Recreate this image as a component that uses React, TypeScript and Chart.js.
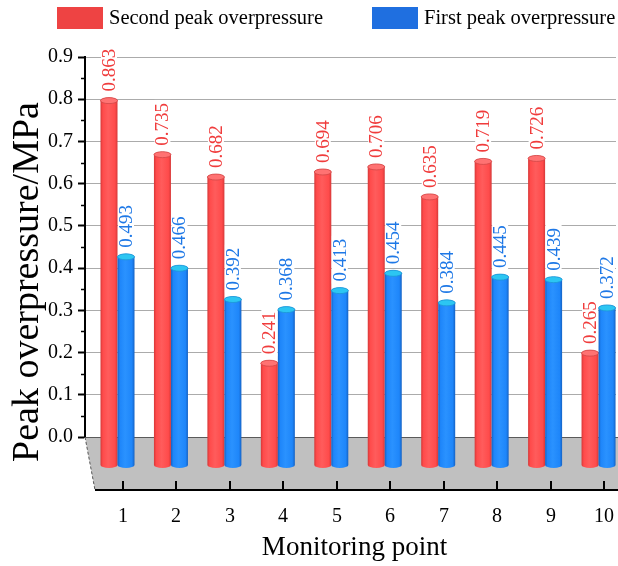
import React, { useEffect, useRef } from 'react';
import { Chart, registerables } from 'chart.js';

Chart.register(...registerables);

// ---------- data ----------
const categories = [1, 2, 3, 4, 5, 6, 7, 8, 9, 10];
const secondPeak = [0.863, 0.735, 0.682, 0.241, 0.694, 0.706, 0.635, 0.719, 0.726, 0.265];
const firstPeak = [0.493, 0.466, 0.392, 0.368, 0.413, 0.454, 0.384, 0.445, 0.439, 0.372];
const seriesNames = ['Second peak overpressure', 'First peak overpressure'];
const yTickMin = 0;
const yTickMax = 0.9;
const yTickStep = 0.1;
const xTitle = 'Monitoring point';
const yTitle = 'Peak overpressure/MPa';

// ---------- style ----------
const FONT = '"Liberation Serif", "Times New Roman", serif';
const W = 618;
const H = 566;
const FRONT_DROP = 28; // px between back wall zero and bar bases
const FLOOR_DEPTH = 53; // px from back edge to front edge of floor
const FLOOR_SHIFT = 10; // horizontal shift of front edge
const BAR_SHIFT = 5.5; // bars sit half-way in depth; front ticks shift this much more

const palette = [
  { legend: '#EE4343', label: '#F03C3C', dark: '#D63838', main: '#FF4B4B', light: '#FF5C5C', top: '#FF7272', topEdge: '#D24646' },
  { legend: '#1F6FE0', label: '#1E78E6', dark: '#1562C4', main: '#1E86FA', light: '#2A92FF', top: '#2CC6F2', topEdge: '#1C96D6' },
];

function drawCylinder(ctx: CanvasRenderingContext2D, cx: number, top: number, base: number, w: number, c: any) {
  const left = cx - w / 2;
  const rx = w / 2;
  const ry = 3;
  const g = ctx.createLinearGradient(left, 0, left + w, 0);
  g.addColorStop(0, c.dark);
  g.addColorStop(0.14, c.main);
  g.addColorStop(0.45, c.light);
  g.addColorStop(0.85, c.main);
  g.addColorStop(1, c.dark);
  ctx.fillStyle = g;
  ctx.beginPath();
  ctx.moveTo(left, top);
  ctx.lineTo(left, base);
  ctx.ellipse(cx, base, rx, ry, 0, Math.PI, 0, true);
  ctx.lineTo(left + w, top);
  ctx.ellipse(cx, top, rx, ry, 0, 0, Math.PI, true);
  ctx.closePath();
  ctx.fill();
  ctx.beginPath();
  ctx.ellipse(cx, top, rx, ry, 0, 0, Math.PI * 2);
  ctx.fillStyle = c.top;
  ctx.fill();
  ctx.lineWidth = 0.8;
  ctx.strokeStyle = c.topEdge;
  ctx.stroke();
}

const depthPlugin = {
  id: 'depth3d',
  beforeDatasetsDraw(chart: any) {
    const { ctx, chartArea: ca, scales } = chart;
    const x = scales.x;
    const back = ca.bottom;
    const front = back + FLOOR_DEPTH;
    ctx.save();
    // floor
    ctx.beginPath();
    ctx.moveTo(ca.left, back);
    ctx.lineTo(chart.width, back);
    ctx.lineTo(chart.width, front);
    ctx.lineTo(ca.left + FLOOR_SHIFT, front);
    ctx.closePath();
    ctx.fillStyle = '#C0C0C0';
    ctx.fill();
    // back edge
    ctx.beginPath();
    ctx.moveTo(ca.left, back + 0.5);
    ctx.lineTo(chart.width, back + 0.5);
    ctx.strokeStyle = '#5A5A5A';
    ctx.lineWidth = 1.2;
    ctx.stroke();
    // left slanted edge
    ctx.beginPath();
    ctx.setLineDash([3, 2]);
    ctx.moveTo(ca.left, back);
    ctx.lineTo(ca.left + FLOOR_SHIFT, front);
    ctx.strokeStyle = '#555';
    ctx.lineWidth = 1;
    ctx.stroke();
    ctx.setLineDash([]);
    // front axis
    ctx.beginPath();
    ctx.moveTo(ca.left + FLOOR_SHIFT, front);
    ctx.lineTo(chart.width, front);
    ctx.strokeStyle = '#000';
    ctx.lineWidth = 2;
    ctx.stroke();
    // front ticks + labels
    ctx.font = `20px ${FONT}`;
    ctx.fillStyle = '#000';
    ctx.textAlign = 'center';
    ctx.textBaseline = 'middle';
    categories.forEach((c) => {
      const px = Math.round(x.getPixelForValue(c) + BAR_SHIFT);
      ctx.beginPath();
      ctx.moveTo(px, front);
      ctx.lineTo(px, front - 9);
      ctx.lineWidth = 2;
      ctx.stroke();
      ctx.fillText(String(c), px, front + 27);
    });
    ctx.restore();
  },
  afterDatasetsDraw(chart: any) {
    const { ctx } = chart;
    ctx.save();
    chart.data.datasets.forEach((ds: any, di: number) => {
      const meta = chart.getDatasetMeta(di);
      meta.data.forEach((el: any) => {
        drawCylinder(ctx, el.x, el.y, el.base, el.width, palette[di]);
      });
    });
    // value labels
    ctx.font = `19px ${FONT}`;
    chart.data.datasets.forEach((ds: any, di: number) => {
      const meta = chart.getDatasetMeta(di);
      meta.data.forEach((el: any, i: number) => {
        const txt = ds.data[i].y.toFixed(3);
        const w = ctx.measureText(txt).width;
        ctx.save();
        ctx.translate(el.x, el.y - 9);
        ctx.rotate(-Math.PI / 2);
        ctx.fillStyle = '#fff';
        ctx.fillRect(-2, -8, w + 5, 16);
        ctx.fillStyle = palette[di].label;
        ctx.textAlign = 'left';
        ctx.textBaseline = 'middle';
        ctx.fillText(txt, 0, 1);
        ctx.restore();
      });
    });
    ctx.restore();
  },
  afterDraw(chart: any) {
    const { ctx, chartArea: ca, scales } = chart;
    const y = scales.y;
    ctx.save();
    // minor ticks
    ctx.strokeStyle = '#000';
    ctx.lineWidth = 1.5;
    for (let v = yTickMin + yTickStep / 2; v < yTickMax; v += yTickStep) {
      const py = Math.round(y.getPixelForValue(v)) + 0.5;
      ctx.beginPath();
      ctx.moveTo(ca.left - 4, py);
      ctx.lineTo(ca.left, py);
      ctx.stroke();
    }
    // legend
    ctx.font = `20.5px ${FONT}`;
    ctx.textBaseline = 'middle';
    ctx.textAlign = 'left';
    const boxX = [57, 372];
    chart.data.datasets.forEach((ds: any, di: number) => {
      ctx.fillStyle = palette[di].legend;
      ctx.fillRect(boxX[di], 7, 46, 22);
      ctx.fillStyle = '#000';
      ctx.fillText(ds.label, boxX[di] + 52, 19);
    });
    // axis titles
    ctx.font = `27px ${FONT}`;
    ctx.textAlign = 'center';
    ctx.fillText(xTitle, (ca.left + ca.right) / 2 + 4, 548);
    ctx.save();
    ctx.translate(28, 282);
    ctx.rotate(-Math.PI / 2);
    ctx.font = `38px ${FONT}`;
    ctx.fillText(yTitle, 0, 0);
    ctx.restore();
    ctx.restore();
  },
};

export default function App() {
  const ref = useRef<HTMLCanvasElement | null>(null);
  useEffect(() => {
    if (!ref.current) return;
    const pxPerUnit = (437 - 57) / (yTickMax - yTickMin);
    const drop = FRONT_DROP / pxPerUnit;
    const chart = new Chart(ref.current, {
      type: 'bar',
      data: {
        datasets: [
          {
            label: seriesNames[0],
            data: categories.map((c, i) => ({ x: c, y: secondPeak[i] })),
            backgroundColor: 'rgba(0,0,0,0)',
            yAxisID: 'yb',
          },
          {
            label: seriesNames[1],
            data: categories.map((c, i) => ({ x: c, y: firstPeak[i] })),
            backgroundColor: 'rgba(0,0,0,0)',
            yAxisID: 'yb',
          },
        ],
      },
      options: {
        responsive: false,
        animation: false,
        events: [],
        barThickness: 17,
        layout: { padding: { top: 57, right: 2, bottom: H - 437, left: 0 } },
        plugins: { legend: { display: false }, tooltip: { enabled: false } },
        scales: {
          x: {
            type: 'linear',
            display: false,
            offset: false,
            min: 1 - 32.5 / 53.45,
            max: 1 - 32.5 / 53.45 + 531 / 53.45,
            ticks: { stepSize: 1, includeBounds: false },
          },
          y: {
            type: 'linear',
            position: 'left',
            min: yTickMin,
            max: yTickMax,
            afterFit: (s: any) => { s.width = 85; },
            grid: { color: '#ABABAB', lineWidth: 1, tickColor: '#000', tickLength: 7, tickWidth: 2 },
            border: { color: '#000', width: 2 },
            ticks: {
              stepSize: yTickStep,
              padding: 5,
              color: '#000',
              font: { family: FONT, size: 20 },
              callback: (v: any) => Number(v).toFixed(1),
            },
          },
          yb: {
            type: 'linear',
            axis: 'y',
            display: false,
            min: yTickMin + drop,
            max: yTickMax + drop,
          },
        },
      } as any,
      plugins: [depthPlugin],
    });
    return () => chart.destroy();
  }, []);
  return (
    <div style={{ position: 'fixed', left: 0, top: 0, width: W, height: H, background: '#fff' }}>
      <canvas ref={ref} width={W} height={H} style={{ display: 'block' }} />
    </div>
  );
}
